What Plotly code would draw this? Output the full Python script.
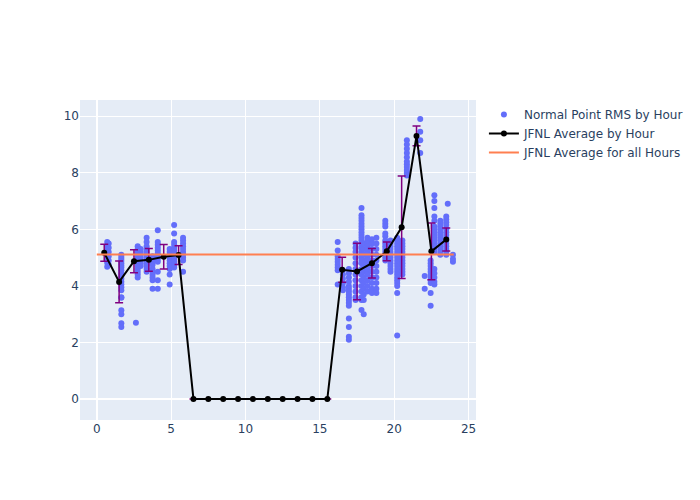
import plotly.graph_objects as go

# ---- Normal point RMS samples (hour of day, RMS) ----
rms_hours = (
    [0.7] * 7 + [0.8] * 6
    + [1.65] * 21
    + [2.63]
    + [2.75] * 14 + [2.95] * 7
    + [3.35] * 12 + [3.75] * 10
    + [4.1] * 12 + [4.9] * 10
    + [5.2] * 12 + [5.8] * 10
    + [16.2] * 9 + [16.55] * 6 + [16.95] * 16
    + [17.4] * 12 + [17.8] * 27 + [17.95] * 12
    + [18.2] * 17 + [18.5] * 11 + [18.8] * 11
    + [19.4] * 13 + [19.75] * 12
    + [20.2] * 20 + [20.55] * 13 + [20.85] * 11
    + [21.75] * 4
    + [22.05] * 2 + [22.45] * 11 + [22.7] * 20
    + [23.1] * 13 + [23.5] * 14 + [23.6] + [23.95] * 3
)
rms_values = (
    [5.55, 5.42, 5.28, 5.12, 4.98, 4.82, 4.68]
    + [5.5, 5.35, 5.2, 5.05, 4.9, 4.75]
    + [5.1, 5.02, 4.95, 4.88, 4.8, 4.72, 4.65, 4.55, 4.45, 4.35, 4.25,
       4.15, 4.05, 3.95, 3.85, 3.6, 3.58, 3.14, 3.0, 2.68, 2.55]
    + [2.7]
    + [5.4, 5.3, 5.2, 5.1, 5.0, 4.95, 4.9, 4.85, 4.8, 4.7, 4.6, 4.5, 4.4, 4.3]
    + [5.3, 5.2, 5.1, 5.0, 4.9, 4.8, 4.7]
    + [5.7, 5.55, 5.4, 5.3, 5.2, 5.1, 5.0, 4.9, 4.8, 4.7, 4.6, 4.5]
    + [5.05, 4.95, 4.85, 4.75, 4.6, 4.5, 4.4, 4.3, 4.2, 3.9]
    + [5.97, 5.55, 5.45, 5.35, 5.25, 5.15, 5.05, 4.95, 4.85, 4.5, 4.2, 3.9]
    + [5.3, 5.2, 5.1, 5.0, 4.9, 4.8, 4.7, 4.6, 4.4, 4.05]
    + [6.15, 5.85, 5.55, 5.45, 5.35, 5.25, 5.15, 5.05, 4.95, 4.85, 4.75, 4.65]
    + [5.7, 5.6, 5.5, 5.4, 5.3, 5.2, 5.1, 5.0, 4.9, 4.5]
    + [5.55, 5.25, 5.05, 4.95, 4.85, 4.75, 4.65, 4.55, 4.05]
    + [4.55, 4.4, 4.25, 4.1, 3.95, 3.85]
    + [4.6, 4.45, 4.3, 4.15, 4.0, 3.9, 3.8, 3.7, 3.6, 3.5, 3.4, 3.3,
       2.85, 2.55, 2.2, 2.1]
    + [5.5, 5.35, 5.2, 5.0, 4.8, 4.6, 4.4, 4.2, 4.0, 3.8, 3.6, 3.5]
    + [6.75, 6.5, 6.4, 6.3, 6.2, 6.1, 6.0, 5.9, 5.8, 5.7, 5.6, 5.5, 5.4,
       5.3, 5.2, 5.1, 5.0, 4.9, 4.8, 4.6, 4.4, 4.2, 4.0, 3.8, 3.6, 3.5, 3.15]
    + [5.5, 5.3, 5.1, 4.9, 4.7, 4.5, 4.3, 4.1, 3.9, 3.7, 3.5, 3.0]
    + [5.7, 5.6, 5.5, 5.4, 5.3, 5.2, 5.1, 5.0, 4.9, 4.8, 4.7, 4.6, 4.5,
       4.4, 4.2, 4.0, 3.8]
    + [5.65, 5.5, 5.3, 5.1, 4.9, 4.7, 4.5, 4.3, 4.1, 3.9, 3.75]
    + [5.7, 5.5, 5.3, 5.1, 4.9, 4.7, 4.5, 4.3, 4.1, 3.9, 3.75]
    + [6.3, 6.2, 6.1, 5.85, 5.75, 5.6, 5.5, 5.4, 5.3, 5.2, 5.1, 5.0, 4.9]
    + [5.6, 5.5, 5.4, 5.3, 5.2, 5.1, 5.0, 4.9, 4.8, 4.7, 4.6, 4.5]
    + [5.7, 5.6, 5.5, 5.4, 5.3, 5.2, 5.1, 5.0, 4.9, 4.8, 4.7, 4.6, 4.5,
       4.4, 4.3, 4.2, 4.1, 4.0, 3.75, 2.25]
    + [5.6, 5.5, 5.4, 5.3, 5.2, 5.1, 5.0, 4.9, 4.8, 4.7, 4.6, 4.5, 4.4]
    + [9.15, 9.0, 8.85, 8.7, 8.55, 8.4, 8.3, 8.2, 8.1, 8.0, 7.9]
    + [9.9, 9.45, 9.15, 8.7]
    + [4.35, 3.9]
    + [4.9, 4.8, 4.7, 4.6, 4.5, 4.4, 4.3, 4.2, 4.1, 3.75, 3.3]
    + [7.2, 7.0, 6.75, 6.45, 6.3, 6.1, 6.0, 5.9, 5.8, 5.7, 5.6, 5.5, 5.4,
       5.3, 5.2, 4.6, 4.45, 4.3, 4.15, 4.05]
    + [6.3, 6.2, 6.1, 6.0, 5.9, 5.8, 5.7, 5.6, 5.5, 5.4, 5.3, 5.2, 5.1]
    + [6.45, 6.35, 6.25, 6.15, 6.0, 5.9, 5.8, 5.7, 5.6, 5.5, 5.4, 5.3, 5.2, 5.1]
    + [6.9]
    + [5.1, 4.95, 4.85]
)

# ---- Hourly averages ----
avg_hours = [0.5, 1.5, 2.5, 3.5, 4.5, 5.5, 6.5, 7.5, 8.5, 9.5, 10.5, 11.5,
             12.5, 13.5, 14.5, 15.5, 16.5, 17.5, 18.5, 19.5, 20.5, 21.5,
             22.5, 23.5]
avg_values = [5.17, 4.14, 4.87, 4.92, 5.03, 5.09, 0, 0, 0, 0, 0, 0,
              0, 0, 0, 0, 4.57, 4.51, 4.8, 5.22, 6.07, 9.3,
              5.22, 5.64]
avg_std = [0.3, 0.74, 0.41, 0.4, 0.43, 0.33, 0, 0, 0, 0, 0, 0,
           0, 0, 0, 0, 0.44, 1.0, 0.52, 0.33, 1.81, 0.35,
           1.0, 0.41]

overall_x = [0, 24]
overall_avg = 5.11

fig = go.Figure()
fig.add_trace(go.Scatter(
    x=rms_hours, y=rms_values, mode="markers",
    name="Normal Point RMS by Hour",
    marker=dict(color="#636efa", size=6),
))
fig.add_trace(go.Scatter(
    x=avg_hours, y=avg_values, mode="lines+markers",
    name="JFNL Average by Hour",
    line=dict(color="black", width=2),
    marker=dict(color="black", size=6),
    error_y=dict(type="data", array=avg_std, color="purple",
                 thickness=1.5, width=4),
))
fig.add_trace(go.Scatter(
    x=overall_x, y=[overall_avg, overall_avg], mode="lines",
    name="JFNL Average for all Hours",
    line=dict(color="#FF7F50", width=2),
))
fig.update_layout(
    width=700, height=500,
    template="plotly",
    font=dict(family="DejaVu Sans"),
    margin=dict(l=80, r=80, t=100, b=80),
)
fig.update_xaxes(range=[-1.13, 25.5])
fig.update_yaxes(range=[-0.74, 10.57])
fig.write_html("out.html")
